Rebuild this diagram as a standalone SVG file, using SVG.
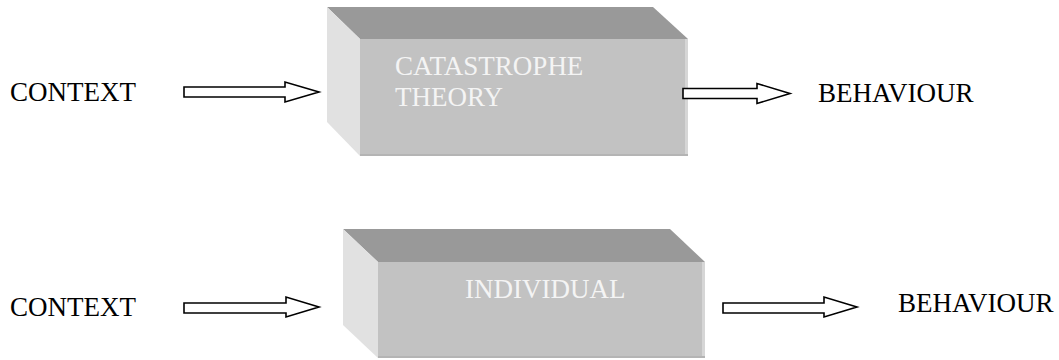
<svg xmlns="http://www.w3.org/2000/svg" width="1059" height="360" viewBox="0 0 1059 360">
<style>
.lbl{font-family:"Liberation Serif","Times New Roman",serif;font-size:27px;fill:#000}
.in{font-family:"Liberation Serif","Times New Roman",serif;font-size:27px;fill:#f4f4f4}
.top{fill:#999999}
.front{fill:#c2c2c2}
.side{fill:#e1e1e1}
.edge{fill:#d6d6d6}
.bot{fill:#b4b4b4}
.arr{fill:#fff;stroke:#000;stroke-width:1.6;stroke-linejoin:miter}
</style>
<rect width="1059" height="360" fill="#fff"/>
<g id="box1">
<polygon class="top" points="327,7 653,7 688,39 360,39"/>
<polygon class="side" points="327,7 360,39 360,156 327,122"/>
<rect class="front" x="360" y="39" width="328" height="117"/>
<rect class="edge" x="685" y="39" width="3" height="117"/>
<rect class="bot" x="360" y="154" width="328" height="2"/>
<text class="in" x="395" y="75">CATASTROPHE</text>
<text class="in" x="395" y="106">THEORY</text>
</g>
<g id="box2">
<polygon class="top" points="343,229 670,229 705,262 378,262"/>
<polygon class="side" points="343,229 378,262 378,358 343,325"/>
<rect class="front" x="378" y="262" width="327" height="96"/>
<rect class="edge" x="702" y="262" width="3" height="96"/>
<rect class="bot" x="378" y="356" width="327" height="2"/>
<text class="in" x="465" y="298">INDIVIDUAL</text>
</g>
<g id="context1"><text class="lbl" x="10" y="101">CONTEXT</text></g>
<g id="behaviour1"><text class="lbl" x="818" y="102">BEHAVIOUR</text></g>
<g id="context2"><text class="lbl" x="10" y="316">CONTEXT</text></g>
<g id="behaviour2"><text class="lbl" x="898" y="312">BEHAVIOUR</text></g>
<g id="connectors">
<polygon class="arr" points="184,87 285,87 285,82 319,92 285,102 285,97 184,97"/>
<polygon class="arr" points="683,88.5 757,88.5 757,83.5 790,93.5 757,103.5 757,98.5 683,98.5"/>
<polygon class="arr" points="184,303 286,303 286,297 319,307 286,317 286,313 184,313"/>
<polygon class="arr" points="723,303 824,303 824,297 857,307 824,317 824,313 723,313"/>
</g>
</svg>
